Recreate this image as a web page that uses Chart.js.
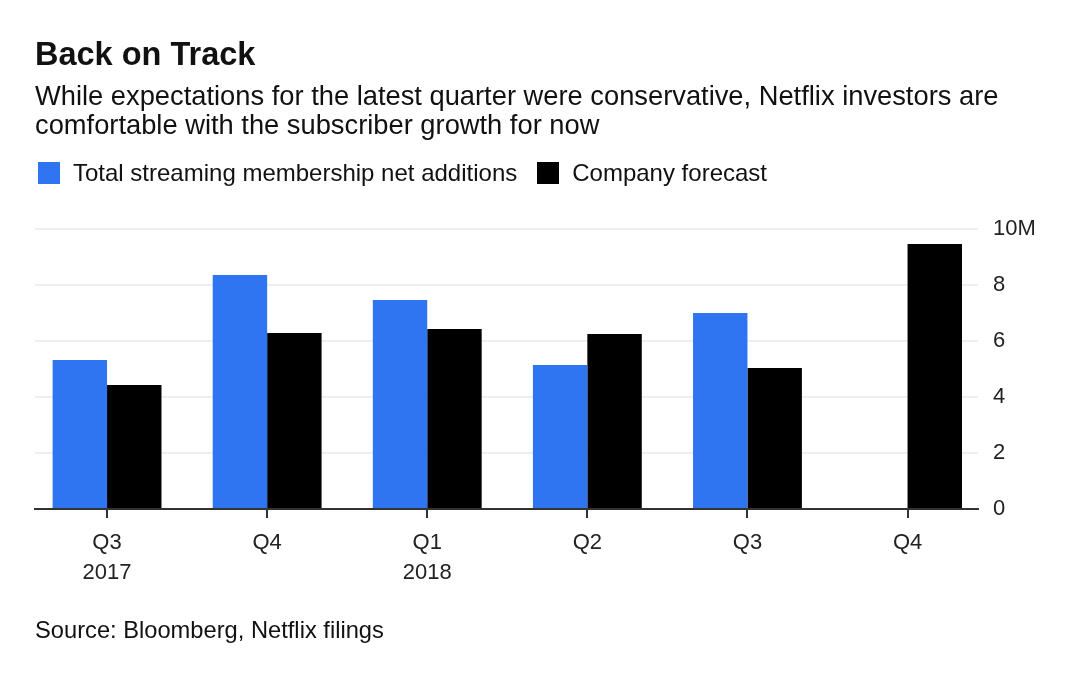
<!DOCTYPE html>
<html>
<head>
<meta charset="utf-8">
<script src="https://cdn.jsdelivr.net/npm/chart.js@4"></script>
<style>
  html, body { margin: 0; padding: 0; background: #fff; }
  body { width: 1080px; height: 678px; position: relative; overflow: hidden; font-family: "Liberation Sans", Arial, sans-serif; color: #111; }
  #c { position: absolute; left: 0; top: 0; }
  .t { position: absolute; white-space: nowrap; }
  #title { left: 35px; top: 37.5px; font-size: 32.5px; line-height: 32.5px; font-weight: bold; }
  #sub { left: 35px; top: 81px; font-size: 27.3px; line-height: 29px; }
  #legend { left: 38px; top: 161px; font-size: 24px; line-height: 24px; display: flex; align-items: center; }
  .sw { display: inline-block; width: 22px; height: 22px; margin-right: 13px; }
  .li { display: flex; align-items: center; margin-right: 20px; }
  #src { left: 35px; top: 618px; font-size: 23.7px; line-height: 24px; }
</style>
</head>
<body>
<canvas id="c" width="1080" height="678"></canvas>
<div class="t" id="title">Back on Track</div>
<div class="t" id="sub">While expectations for the latest quarter were conservative, Netflix investors are<br>comfortable with the subscriber growth for now</div>
<div class="t" id="legend"></div>
<div class="t" id="src">Source: Bloomberg, Netflix filings</div>
<script>
const categories = [['Q3', '2017'], ['Q4'], ['Q1', '2018'], ['Q2'], ['Q3'], ['Q4']];
const netAdditions = [5.32, 8.36, 7.46, 5.14, 7.0, null];
const companyForecast = [4.43, 6.29, 6.43, 6.25, 5.04, 9.46];
const yTicks = [0, 2, 4, 6, 8, 10];
const seriesNames = ['Total streaming membership net additions', 'Company forecast'];
const seriesColors = ['#2f75f2', '#000000'];

function toPoints(arr) {
  const pts = [];
  arr.forEach((v, i) => { if (v !== null) pts.push({ x: i, y: v }); });
  return pts;
}

const legend = document.getElementById('legend');
seriesNames.forEach((n, i) => {
  const d = document.createElement('span');
  d.className = 'li';
  d.innerHTML = '<span class="sw" style="background:' + seriesColors[i] + '"></span>' + n;
  legend.appendChild(d);
});

Chart.defaults.font.family = '"Liberation Sans", Arial, sans-serif';
Chart.defaults.color = '#222';

new Chart(document.getElementById('c'), {
  type: 'bar',
  data: {
    datasets: [
      { label: seriesNames[0], data: toPoints(netAdditions), backgroundColor: seriesColors[0], borderWidth: 0 },
      { label: seriesNames[1], data: toPoints(companyForecast), backgroundColor: seriesColors[1], borderWidth: 0 }
    ]
  },
  options: {
    responsive: false,
    animation: false,
    devicePixelRatio: 1,
    layout: { padding: { left: 35, top: 229, right: 0, bottom: 69 } },
    datasets: { bar: { categoryPercentage: 0.68, barPercentage: 1.0 } },
    plugins: { legend: { display: false }, title: { display: false }, tooltip: { enabled: false } },
    scales: {
      x: {
        type: 'linear',
        offset: false,
        min: -0.45,
        max: 5.44,
        afterFit: (s) => { s.height = 100; },
        grid: { display: true, offset: false, drawOnChartArea: false, drawTicks: true, tickLength: 9, color: '#333', lineWidth: 2 },
        border: { display: true, color: '#333', width: 2 },
        ticks: {
          stepSize: 1,
          includeBounds: false,
          autoSkip: false,
          maxRotation: 0,
          padding: 10,
          font: { size: 22, lineHeight: 30 / 22 },
          color: '#222',
          callback: (v) => categories[v]
        }
      },
      y: {
        position: 'right',
        min: 0,
        max: 10,
        afterFit: (s) => { s.width = 102; },
        afterBuildTicks: (s) => { s.ticks = yTicks.map(v => ({ value: v })); },
        grid: { color: '#eeeeee', lineWidth: 2, drawTicks: false },
        border: { display: false },
        ticks: {
          padding: 15,
          font: { size: 22 },
          color: '#222',
          callback: (v) => v === 10 ? '10M' : String(v)
        }
      }
    }
  }
});
</script>
</body>
</html>
